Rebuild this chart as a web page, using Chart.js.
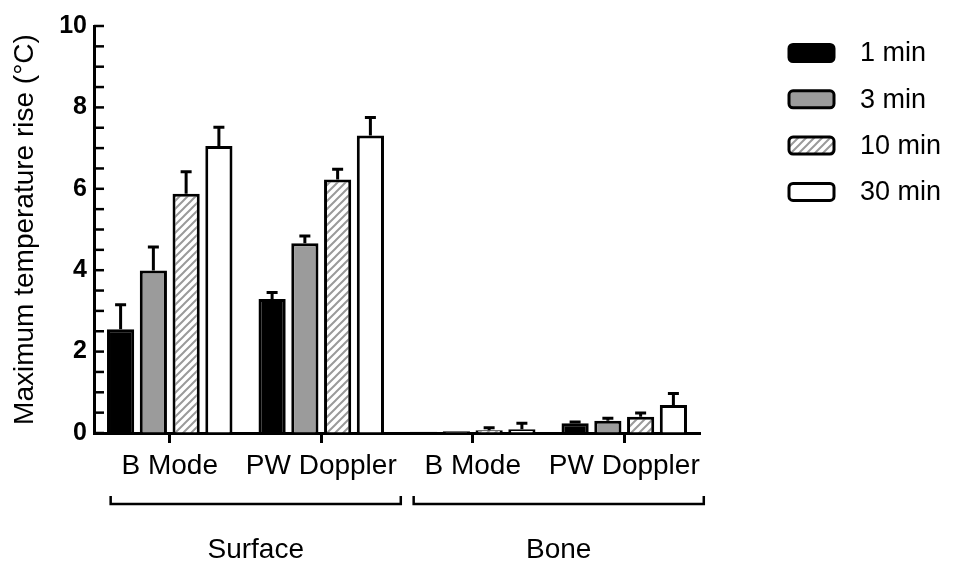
<!DOCTYPE html>
<html>
<head>
<meta charset="utf-8">
<script src="https://cdn.jsdelivr.net/npm/chart.js@4.4.1/dist/chart.umd.min.js"></script>
<style>
  html, body { margin: 0; padding: 0; background: #ffffff; }
  #wrap { width: 956px; height: 572px; position: relative; }
</style>
</head>
<body>
<div id="wrap"><canvas id="c" width="956" height="572"></canvas></div>
<script>
// ---- data ----
const groups = ['Surface', 'Bone'];
const categories = ['B Mode', 'PW Doppler', 'B Mode', 'PW Doppler'];
const seriesNames = ['1 min', '3 min', '10 min', '30 min'];
const min1 = [2.55, 3.29, 0.03, 0.24];
const min1Err = [0.60, 0.16, 0.00, 0.03];
const min3 = [3.99, 4.66, 0.04, 0.30];
const min3Err = [0.58, 0.18, 0.00, 0.06];
const min10 = [5.88, 6.23, 0.07, 0.40];
const min10Err = [0.54, 0.25, 0.06, 0.09];
const min30 = [7.05, 7.31, 0.09, 0.69];
const min30Err = [0.46, 0.44, 0.15, 0.28];
const yMin = 0, yMax = 10, yMajorStep = 2, yMinorStep = 0.5;

// ---- hatch pattern ----
function makeHatch() {
  const p = document.createElement('canvas');
  p.width = 8; p.height = 8;
  const g = p.getContext('2d');
  g.fillStyle = '#ffffff';
  g.fillRect(0, 0, 8, 8);
  g.strokeStyle = '#9a9a9a';
  g.lineWidth = 2;
  g.beginPath();
  g.moveTo(-2, 10); g.lineTo(10, -2);
  g.moveTo(-2, 2); g.lineTo(2, -2);
  g.moveTo(6, 10); g.lineTo(10, 6);
  g.stroke();
  return g.createPattern(p, 'repeat');
}
const hatch = makeHatch();

const FONT = '"Liberation Sans", Arial, sans-serif';
const TXT = 28;

const datasets = [
  { label: seriesNames[0], data: min1, err: min1Err, backgroundColor: '#000000' },
  { label: seriesNames[1], data: min3, err: min3Err, backgroundColor: '#9b9b9b' },
  { label: seriesNames[2], data: min10, err: min10Err, backgroundColor: hatch },
  { label: seriesNames[3], data: min30, err: min30Err, backgroundColor: '#ffffff' }
].map(d => Object.assign(d, {
  borderColor: '#000000', borderWidth: 3, borderSkipped: 'bottom',
  categoryPercentage: 0.865, barPercentage: 0.83
}));

// error bars (upward only)
const errorBars = {
  id: 'errorBars',
  afterDatasetsDraw(chart) {
    const ctx = chart.ctx, ys = chart.scales.y;
    ctx.save();
    ctx.strokeStyle = '#000';
    ctx.lineWidth = 3;
    chart.data.datasets.forEach((ds, i) => {
      const meta = chart.getDatasetMeta(i);
      meta.data.forEach((bar, j) => {
        const e = ds.err[j];
        if (!e) return;
        const yTop = ys.getPixelForValue(ds.data[j] + e);
        ctx.beginPath();
        ctx.moveTo(bar.x, bar.y);
        ctx.lineTo(bar.x, yTop);
        ctx.moveTo(bar.x - 5.5, yTop);
        ctx.lineTo(bar.x + 5.5, yTop);
        ctx.stroke();
      });
    });
    ctx.restore();
  }
};

// inward y ticks (major + minor)
const yInwardTicks = {
  id: 'yInwardTicks',
  afterDraw(chart) {
    const ctx = chart.ctx, ys = chart.scales.y;
    const left = chart.chartArea.left;
    ctx.save();
    ctx.strokeStyle = '#000';
    ctx.lineWidth = 2.5;
    ys.ticks.forEach(t => {
      const y = ys.getPixelForValue(t.value);
      ctx.beginPath();
      ctx.moveTo(left, y);
      ctx.lineTo(left + 10, y);
      ctx.stroke();
    });
    ctx.restore();
  }
};

// group brackets + group labels
const groupBrackets = {
  id: 'groupBrackets',
  afterDraw(chart) {
    const ctx = chart.ctx, xs = chart.scales.x;
    const step = xs.getPixelForValue(1) - xs.getPixelForValue(0);
    const yLine = 504, yEnd = 496;
    ctx.save();
    ctx.strokeStyle = '#000';
    ctx.lineWidth = 2.5;
    ctx.fillStyle = '#000';
    ctx.font = TXT + 'px ' + FONT;
    ctx.textAlign = 'center';
    ctx.textBaseline = 'middle';
    groups.forEach((g, k) => {
      const a = xs.getPixelForValue(2 * k) - 0.39 * step;
      const b = xs.getPixelForValue(2 * k + 1) + 0.525 * step;
      ctx.beginPath();
      ctx.moveTo(a, yEnd); ctx.lineTo(a, yLine); ctx.lineTo(b, yLine); ctx.lineTo(b, yEnd);
      ctx.stroke();
      ctx.fillText(g, (a + b) / 2, 550);
    });
    ctx.restore();
  }
};

// legend on the right
const sideLegend = {
  id: 'sideLegend',
  afterDraw(chart) {
    const ctx = chart.ctx;
    ctx.save();
    ctx.font = '27px ' + FONT;
    ctx.textBaseline = 'middle';
    ctx.textAlign = 'left';
    chart.data.datasets.forEach((ds, i) => {
      const cy = 53 + i * 46.3;
      const bx = 789, bw = 45, bh = 17;
      ctx.beginPath();
      ctx.roundRect(bx, cy - bh / 2, bw, bh, 4);
      ctx.fillStyle = ds.backgroundColor;
      ctx.fill();
      ctx.lineWidth = 3;
      ctx.strokeStyle = '#000';
      ctx.stroke();
      ctx.fillStyle = '#000';
      ctx.fillText(ds.label, 860, cy + 1);
    });
    ctx.restore();
  }
};

new Chart(document.getElementById('c'), {
  type: 'bar',
  data: { labels: categories, datasets },
  options: {
    responsive: false,
    animation: false,
    devicePixelRatio: 1,
    layout: { padding: { left: 0, top: 26, right: 256, bottom: 0 } },
    plugins: { legend: { display: false }, tooltip: { enabled: false } },
    scales: {
      x: {
        grid: { drawOnChartArea: false, offset: false, drawTicks: true, tickLength: 10, tickWidth: 3, tickColor: '#000' },
        border: { display: true, color: '#000', width: 3 },
        ticks: { color: '#000', font: { family: FONT, size: TXT }, padding: 6, maxRotation: 0, autoSkip: false },
        afterFit(s) { s.height = 139; }
      },
      y: {
        min: yMin, max: yMax,
        grid: { drawOnChartArea: false, drawTicks: false },
        border: { display: true, color: '#000', width: 3 },
        ticks: {
          stepSize: yMinorStep, color: '#000', padding: 7, autoSkip: false,
          font: { family: FONT, size: 25, weight: 'bold' },
          callback: v => (Math.abs(v / yMajorStep - Math.round(v / yMajorStep)) < 1e-9 ? String(v) : '')
        },
        title: {
          display: true, text: 'Maximum temperature rise (°C)', color: '#000',
          font: { family: FONT, size: TXT }, padding: { top: 8, bottom: 0 }
        },
        afterFit(s) { s.width = 94; }
      }
    }
  },
  plugins: [errorBars, yInwardTicks, groupBrackets, sideLegend]
});
</script>
</body>
</html>
